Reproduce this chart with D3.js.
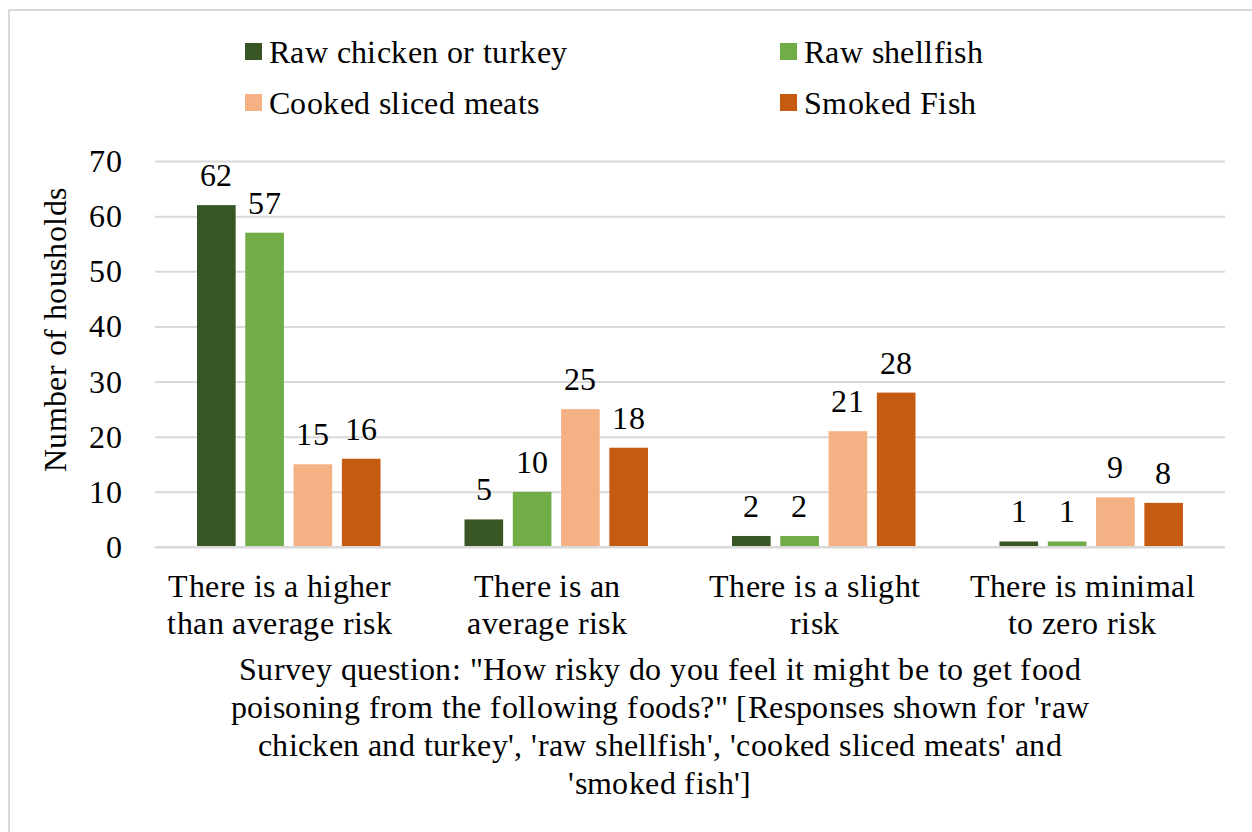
<!DOCTYPE html>
<html>
<head>
<meta charset="utf-8">
<script src="https://cdn.jsdelivr.net/npm/d3@7"></script>
<style>
@font-face {
  font-family: "ChartSerif";
  src: local("Liberation Serif"), local("LiberationSerif"), local("LiberationSerif-Regular"), local("Times New Roman"), local("Tinos");
}
svg#chart text, svg#chart tspan {
  font-family: "ChartSerif", "Liberation Serif", "Times New Roman", serif !important;
}
</style>
</head>
<body style="margin:0">
<svg id="chart" width="1252" height="832"></svg>
<script>
const categories = [
  ["There is a higher", "than average risk"],
  ["There is an", "average risk"],
  ["There is a slight", "risk"],
  ["There is minimal", "to zero risk"]
];
const seriesNames = ["Raw chicken or turkey", "Raw shellfish", "Cooked sliced meats", "Smoked Fish"];
const seriesColors = ["#375623", "#70ad47", "#f4b183", "#c55a11"];
const rawChicken = [62, 5, 2, 1];
const rawShellfish = [57, 10, 2, 1];
const cookedMeats = [15, 25, 21, 9];
const smokedFish = [16, 18, 28, 8];
const yTicks = [0, 10, 20, 30, 40, 50, 60, 70];
const yTitle = "Number of housholds";
const caption = [
  "Survey question: \"How risky do you feel it might be to get food",
  "poisoning from the following foods?\" [Responses shown for 'raw",
  "chicken and turkey', 'raw shellfish', 'cooked sliced meats' and",
  "'smoked fish']"
];

const seriesValues = [rawChicken, rawShellfish, cookedMeats, smokedFish];
const svg = d3.select("#chart");
const FS = 32;
const FAMILY = `"ChartSerif", "Liberation Serif", "Times New Roman", serif`;
function styleText(sel) {
  return sel.attr("font-family", "Liberation Serif")
    .style("font-family", FAMILY, "important")
    .attr("font-size", FS)
    .style("letter-spacing", "0.4px");
}

// border
svg.append("rect").attr("x", 9).attr("y", 10).attr("width", 1270).attr("height", 850)
  .attr("fill", "none").attr("stroke", "#d9d9d9").attr("stroke-width", 2);

const plotLeft = 155, plotRight = 1225, plotTop = 161, plotBottom = 547;
const catKeys = categories.map((c, i) => i);
const x0 = d3.scaleBand().domain(catKeys).range([plotLeft, plotRight]).padding(0);
const bw = x0.bandwidth();
const x1 = d3.scaleBand().domain(d3.range(seriesNames.length))
  .range([bw * 0.157, bw * 0.843]).paddingInner(0.2).paddingOuter(0);
const y = d3.scaleLinear().domain([0, 70]).range([plotBottom, plotTop]);

// gridlines + tick labels
const yAxis = d3.axisLeft(y).tickValues(yTicks).tickSize(-(plotRight - plotLeft)).tickPadding(33);
const gy = svg.append("g").attr("transform", `translate(${plotLeft},0)`).call(yAxis);
gy.attr("font-family", "Liberation Serif").attr("font-size", FS);
gy.select(".domain").remove();
gy.selectAll(".tick line").attr("stroke", "#d9d9d9").attr("stroke-width", 2);
styleText(gy.selectAll(".tick text")).attr("fill", "#000").attr("dy", "0.33em");

// bars
const groups = svg.append("g").selectAll("g").data(catKeys).join("g")
  .attr("transform", d => `translate(${x0(d)},0)`);
groups.selectAll("rect")
  .data(ci => seriesValues.map((vals, si) => ({ si, v: vals[ci] })))
  .join("rect")
  .attr("x", d => x1(d.si))
  .attr("width", x1.bandwidth())
  .attr("y", d => y(d.v))
  .attr("height", d => y(0) - y(d.v))
  .attr("fill", d => seriesColors[d.si]);
styleText(groups.selectAll("text.lbl")
  .data(ci => seriesValues.map((vals, si) => ({ si, v: vals[ci] })))
  .join("text").attr("class", "lbl")
  .attr("x", d => x1(d.si) + x1.bandwidth() / 2)
  .attr("y", d => y(d.v) - 19)
  .attr("text-anchor", "middle"))
  .attr("fill", "#000")
  .text(d => d.v);

// x-axis baseline drawn over
svg.append("line").attr("x1", plotLeft).attr("x2", plotRight)
  .attr("y1", y(0)).attr("y2", y(0)).attr("stroke", "#d9d9d9").attr("stroke-width", 2);

// category labels (one text per line)
const catLines = [];
categories.forEach((lines, ci) => lines.forEach((t, li) => catLines.push({ ci, li, t })));
styleText(svg.append("g").selectAll("text").data(catLines).join("text")
  .attr("text-anchor", "middle")
  .attr("x", d => x0(d.ci) + bw / 2 - 9)
  .attr("y", d => 597 + d.li * 37))
  .attr("fill", "#000")
  .text(d => d.t);

// y title
styleText(svg.append("text").attr("transform", "translate(66,330) rotate(-90)")
  .attr("text-anchor", "middle")).attr("fill", "#000").text(yTitle);

// legend
const legendPos = [[245, 52], [780, 52], [245, 103], [780, 103]];
const lg = svg.append("g").selectAll("g").data(seriesNames).join("g")
  .attr("transform", (d, i) => `translate(${legendPos[i][0]},${legendPos[i][1]})`);
lg.append("rect").attr("x", 0).attr("y", -9).attr("width", 17).attr("height", 17)
  .attr("fill", (d, i) => seriesColors[i]);
styleText(lg.append("text").attr("x", 24).attr("y", 11)).attr("fill", "#000").text(d => d);

// caption
styleText(svg.append("g").selectAll("text").data(caption).join("text")
  .attr("x", 660).attr("y", (d, i) => 680 + i * 38)
  .attr("text-anchor", "middle")).attr("fill", "#000").text(d => d);
</script>
</body>
</html>
